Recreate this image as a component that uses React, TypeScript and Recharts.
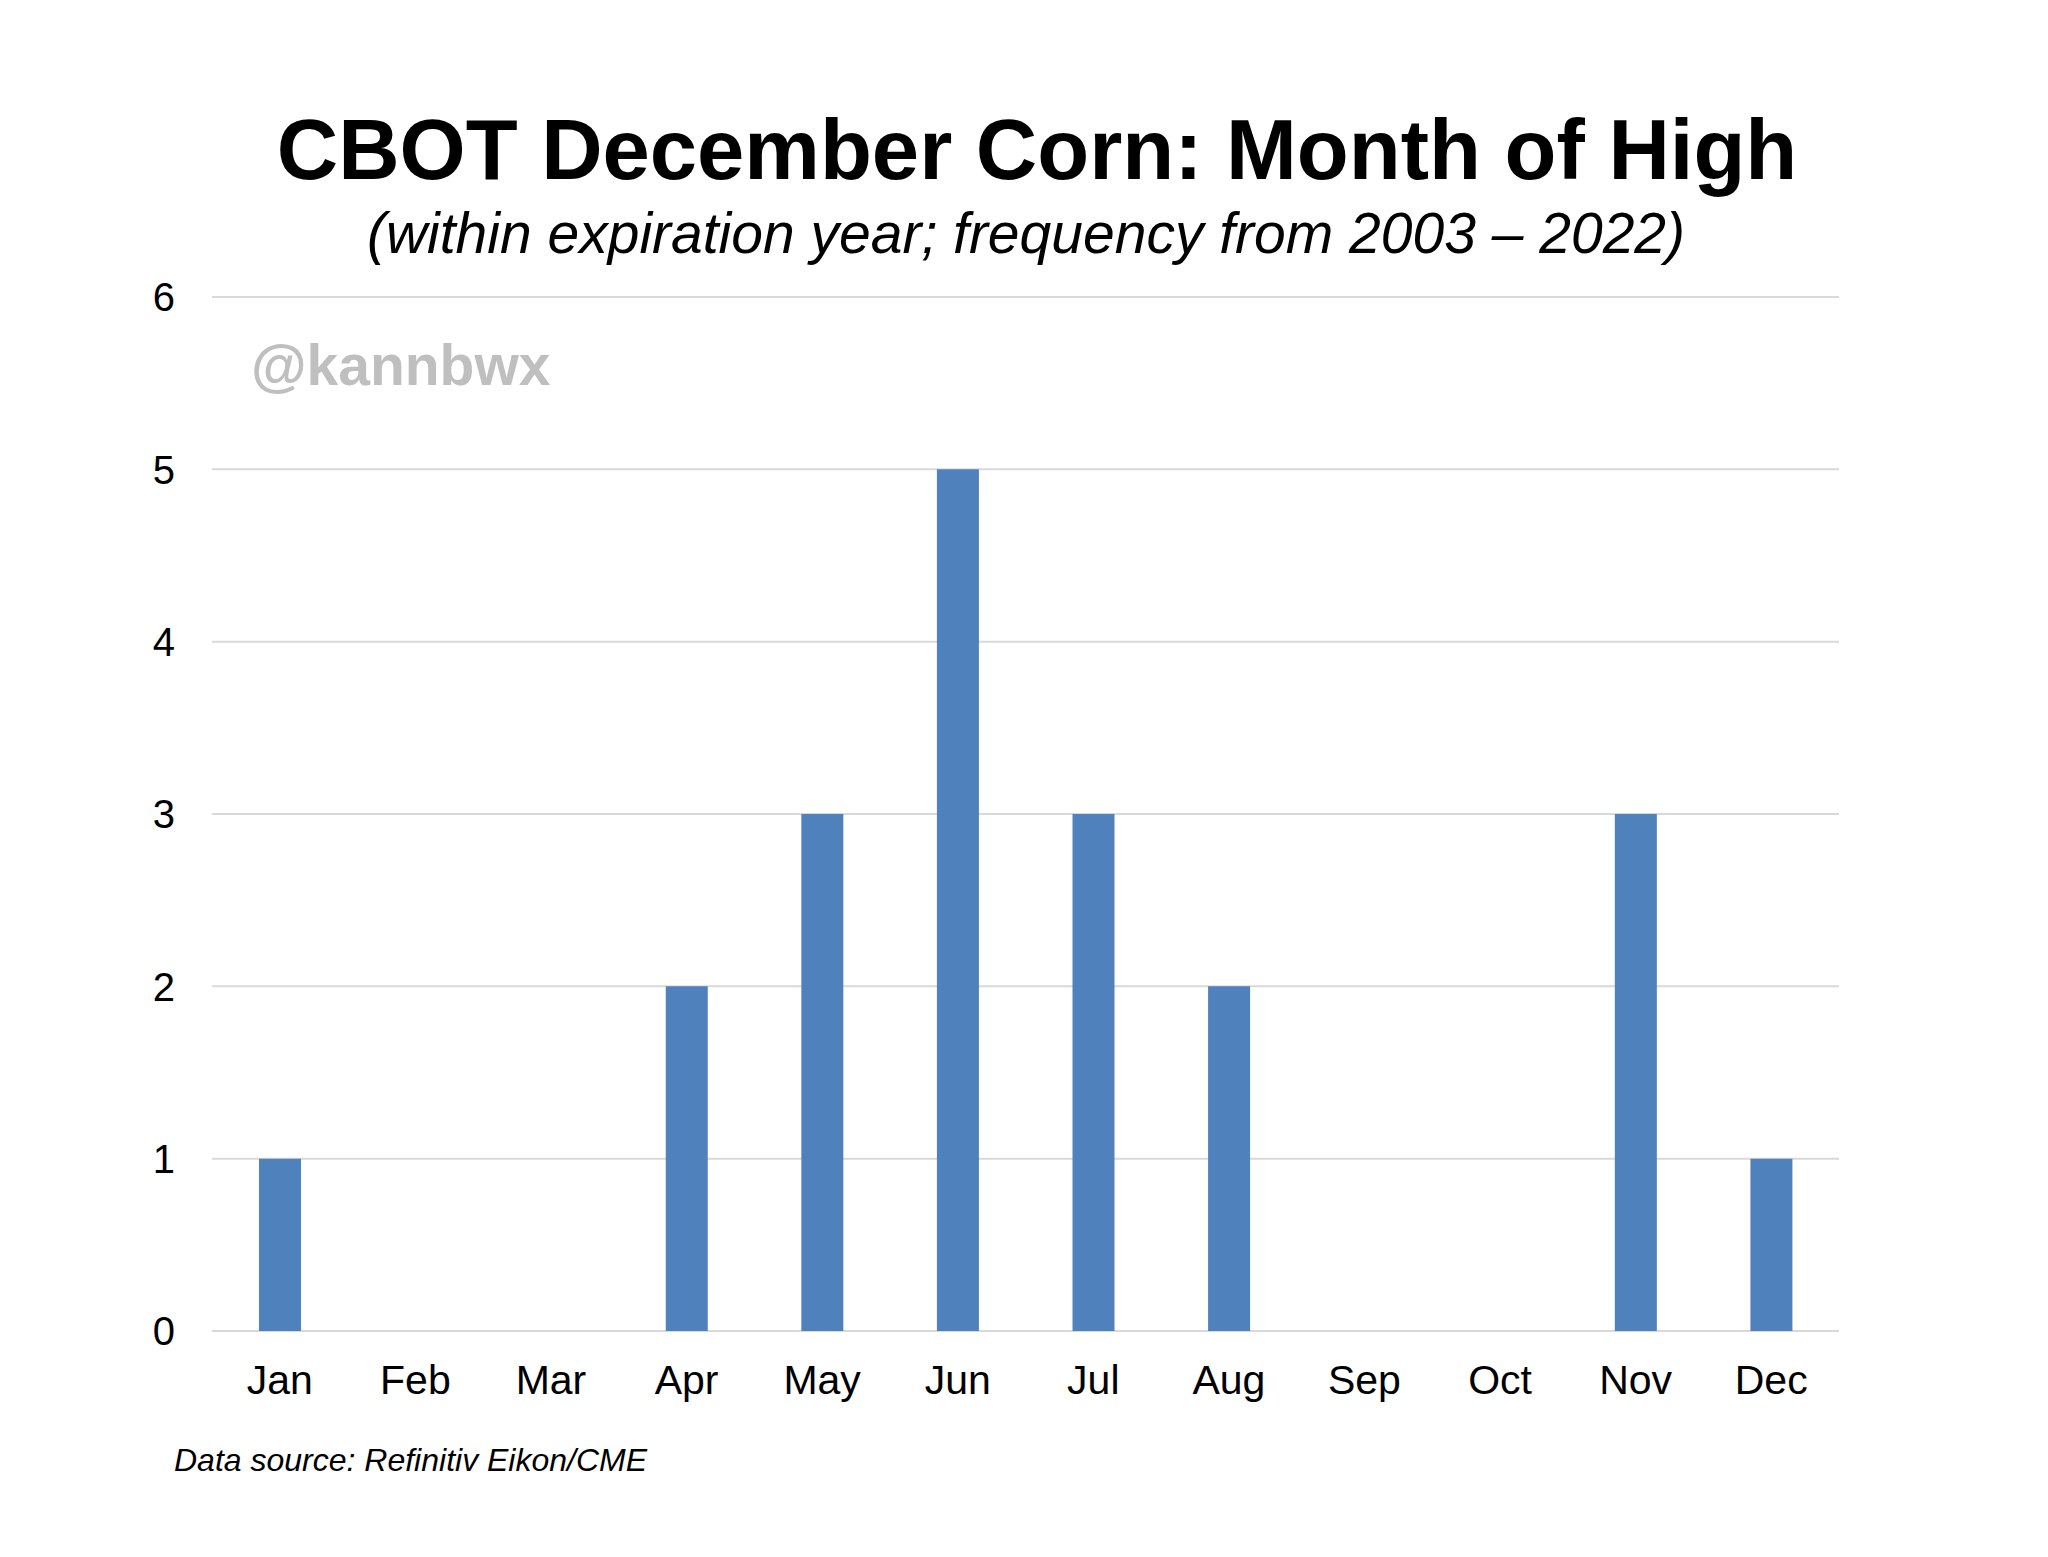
import { BarChart, Bar, XAxis, YAxis, CartesianGrid } from "recharts";

const months = ["Jan", "Feb", "Mar", "Apr", "May", "Jun", "Jul", "Aug", "Sep", "Oct", "Nov", "Dec"];
const highCounts = [1, 0, 0, 2, 3, 5, 3, 2, 0, 0, 3, 1];
const yTicks = [0, 1, 2, 3, 4, 5, 6];

const data = months.map((m, i) => ({ month: m, count: highCounts[i] }));

const FONT = "'Liberation Sans', Arial, sans-serif";

export default function App() {
  return (
    <div style={{ position: "relative", width: 2048, height: 1557, background: "#fff" }}>
      <style>{"body{margin:0;background:#fff}"}</style>
      <BarChart
        width={2048}
        height={1557}
        data={data}
        margin={{ top: 297, right: 209, bottom: 146, left: 152 }}
      >
        <CartesianGrid vertical={false} stroke="#d9d9d9" strokeWidth={2} />
        <XAxis
          dataKey="month"
          axisLine={false}
          tickLine={false}
          tickSize={0}
          tickMargin={34}
          height={80}
          interval={0}
          tick={{ fill: "#000", fontSize: 41, fontFamily: FONT }}
        />
        <YAxis
          domain={[0, 6]}
          ticks={yTicks}
          axisLine={false}
          tickLine={false}
          tickSize={0}
          tickMargin={37}
          width={60}
          tick={{ fill: "#000", fontSize: 40, fontFamily: FONT }}
        />
        <Bar dataKey="count" fill="#4f81bd" barSize={42} isAnimationActive={false} />
      </BarChart>
      <svg
        width={2048}
        height={1557}
        style={{ position: "absolute", left: 0, top: 0, pointerEvents: "none" }}
      >
        <text x={1037} y={179} textAnchor="middle" fontFamily={FONT} fontWeight="bold" fontSize={85} fill="#000">
          CBOT December Corn: Month of High
        </text>
        <text x={1026} y={253} textAnchor="middle" fontFamily={FONT} fontStyle="italic" fontSize={57} fill="#000">
          (within expiration year; frequency from 2003 – 2022)
        </text>
        <text x={251} y={385} fontFamily={FONT} fontWeight="bold" fontSize={57} fill="#bfbfbf">
          @kannbwx
        </text>
        <text x={174} y={1471} fontFamily={FONT} fontStyle="italic" fontSize={32} fill="#000">
          Data source: Refinitiv Eikon/CME
        </text>
      </svg>
    </div>
  );
}
